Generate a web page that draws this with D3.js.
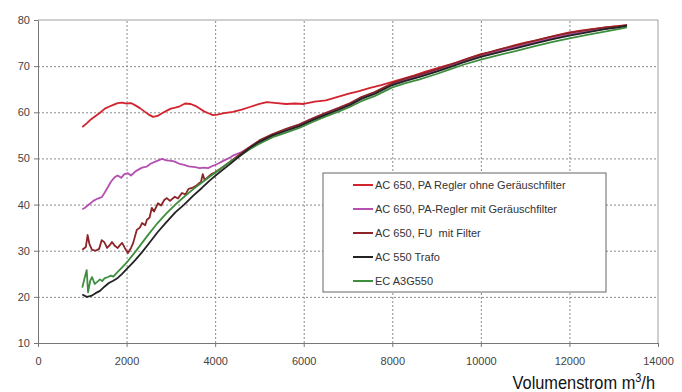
<!DOCTYPE html>
<html>
<head>
<meta charset="utf-8">
<script src="https://cdn.jsdelivr.net/npm/d3@7"></script>
<style>
  body { margin: 0; background: #fff; }
  svg { display: block; }
  .tick text { font-family: "Liberation Sans Narrow", "Arial Narrow", "Liberation Sans", sans-serif; font-size: 11px; fill: #444; }
  .grid line { stroke: #8a8a8a; stroke-dasharray: 2,2; }
  .grid .domain { display: none; }
  .series { fill: none; stroke-width: 1.8; stroke-linejoin: round; }
  .legend text { font-family: "Liberation Sans Narrow", "Arial Narrow", "Liberation Sans", sans-serif; font-size: 11px; fill: #333; white-space: pre; }
</style>
</head>
<body>
<svg id="chart" width="682" height="392"></svg>
<script>
// x ticks / y ticks
var xTicks = [0, 2000, 4000, 6000, 8000, 10000, 12000, 14000];
var yTicks = [10, 20, 30, 40, 50, 60, 70, 80];

var seriesNames = [
  "AC 650, PA Regler ohne Geräuschfilter",
  "AC 650, PA-Regler mit Geräuschfilter",
  "AC 650, FU  mit Filter",
  "AC 550 Trafo",
  "EC A3G550"
];
var seriesColors = ["#d2232e", "#b54fb0", "#8c2428", "#222222", "#3d8f3d"];

// [Volumenstrom, value]
var ohneFilter = [
  [1000,56.8],[1100,57.6],[1200,58.5],[1300,59.2],[1400,59.9],[1510,60.8],[1600,61.2],[1700,61.6],
  [1800,62.0],[1900,62.1],[2000,61.9],[2100,62.0],[2200,61.5],[2300,60.9],[2400,60.2],[2500,59.5],
  [2600,59.0],[2700,59.2],[2800,59.8],[2900,60.3],[3000,60.8],[3100,61.0],[3200,61.3],[3320,61.9],
  [3450,61.8],[3550,61.4],[3650,60.8],[3750,60.2],[3850,59.8],[3950,59.4],[4050,59.5],[4200,59.8],
  [4400,60.1],[4600,60.6],[4800,61.2],[5000,61.8],[5170,62.2],[5400,62.0],[5600,61.8],[5800,61.9],
  [6000,61.8],[6250,62.3],[6500,62.6],[6750,63.3],[7000,64.0],[7250,64.6],[7500,65.3],[7750,65.9],
  [8000,66.6],[8250,67.3],[8500,68.0],[8750,68.8],[9000,69.5],[9250,70.2],[9500,70.9],[9750,71.8],
  [10000,72.6],[10250,73.1],[10500,73.8],[10750,74.5],[11000,75.1],[11250,75.6],[11500,76.2],
  [11750,76.8],[12000,77.3],[12250,77.7],[12500,78.0],[12750,78.3],[13000,78.6],[13300,78.9]
];
var mitFilter = [
  [1000,39.0],[1060,39.3],[1150,40.0],[1250,40.8],[1350,41.3],[1440,41.6],[1500,42.5],[1580,43.8],
  [1650,45.0],[1740,46.0],[1800,46.3],[1880,45.8],[1950,46.6],[2030,46.8],[2100,46.3],[2200,47.2],
  [2350,48.0],[2450,48.2],[2550,48.9],[2650,49.3],[2800,49.9],[2900,49.6],[3000,49.5],[3090,49.3],
  [3200,48.8],[3300,48.6],[3400,48.3],[3550,48.1],[3650,47.9],[3750,48.0],[3840,47.9],[3950,48.4],
  [4050,48.8],[4150,49.3],[4300,50.0],[4400,50.6],[4600,51.4],[4800,52.6],[5000,53.8],[5300,55.2],
  [5600,56.2],[5900,57.2],[6200,58.5],[6500,59.7],[6800,60.8],[7050,61.8],[7300,63.1],[7600,64.2],
  [8000,66.1],[8300,67.0],[8600,67.9],[9000,69.0],[9300,70.0],[9600,71.0],[10000,72.2],[10400,73.2],
  [10800,74.2],[11200,75.1],[11600,76.0],[12000,76.9],[12400,77.5],[12800,78.1],[13100,78.5],[13300,78.8]
];
var fuFilter = [
  [1000,30.2],[1080,30.8],[1120,33.4],[1160,31.5],[1220,30.2],[1300,30.0],[1380,30.4],[1440,32.3],
  [1500,31.8],[1560,30.6],[1620,31.2],[1670,31.9],[1740,31.0],[1800,30.6],[1850,31.2],[1900,31.7],
  [1960,30.6],[2030,29.5],[2100,30.6],[2150,31.7],[2230,34.5],[2300,35.0],[2350,36.0],[2420,35.5],
  [2460,36.7],[2520,37.2],[2570,39.3],[2620,38.5],[2710,40.3],[2780,39.8],[2850,41.0],[2910,41.4],
  [2980,40.8],[3090,41.7],[3160,41.3],[3250,42.5],[3330,42.2],[3400,43.4],[3480,43.6],[3560,44.0],
  [3620,44.5],[3680,44.9],[3720,46.6],[3760,45.4],[3800,45.6],[3900,46.5],[4000,47.0],[4150,48.0],
  [4300,49.0],[4500,50.5],[4800,52.6],[5000,53.9],[5300,55.3],[5600,56.4],[5900,57.4],[6200,58.7],
  [6500,59.9],[6800,61.0],[7050,62.0],[7300,63.3],[7600,64.4],[8000,66.3],[8300,67.3],[8600,68.1],
  [9000,69.3],[9300,70.3],[9600,71.3],[10000,72.5],[10400,73.6],[10800,74.5],[11200,75.5],
  [11600,76.4],[12000,77.2],[12400,77.8],[12800,78.4],[13100,78.6],[13300,78.9]
];
var trafo = [
  [1000,20.5],[1100,20.0],[1200,20.2],[1300,20.8],[1400,21.3],[1500,22.2],[1600,23.0],[1700,23.5],
  [1800,24.1],[1900,25.0],[2000,26.0],[2100,27.0],[2200,28.0],[2350,29.7],[2500,31.5],[2700,34.0],
  [2900,36.2],[3100,38.3],[3300,40.0],[3500,41.9],[3700,43.6],[3900,45.4],[4100,47.0],[4300,48.5],
  [4500,50.1],[4800,52.4],[5000,53.6],[5300,55.0],[5600,56.0],[5900,57.0],[6200,58.3],[6500,59.5],
  [6800,60.6],[7050,61.6],[7300,62.9],[7600,64.0],[8000,65.9],[8300,66.8],[8600,67.6],[9000,68.8],
  [9300,69.8],[9600,70.8],[10000,72.0],[10400,73.0],[10800,73.9],[11200,74.9],[11600,75.8],
  [12000,76.6],[12400,77.3],[12800,78.0],[13100,78.4],[13300,78.8]
];
var ecA3G = [
  [1000,22.0],[1050,24.0],[1100,25.8],[1130,21.0],[1180,23.5],[1220,24.3],[1280,22.8],[1330,23.2],
  [1400,23.8],[1450,23.4],[1500,24.0],[1580,24.3],[1650,24.6],[1700,24.4],[1800,25.4],[1900,26.4],
  [2000,27.4],[2100,28.6],[2200,29.8],[2350,31.7],[2500,33.6],[2700,36.0],[2900,38.1],[3100,40.0],
  [3300,41.7],[3500,43.3],[3700,44.8],[3900,46.2],[4100,47.6],[4300,49.0],[4500,50.2],[4800,52.1],
  [5000,53.2],[5300,54.6],[5600,55.6],[5900,56.6],[6200,57.9],[6500,59.1],[6800,60.2],[7050,61.2],
  [7300,62.4],[7600,63.5],[8000,65.4],[8300,66.3],[8600,67.1],[9000,68.3],[9300,69.3],[9600,70.3],
  [10000,71.4],[10400,72.4],[10800,73.3],[11200,74.3],[11600,75.2],[12000,76.0],[12400,76.8],
  [12800,77.5],[13100,78.0],[13300,78.4]
];

var allSeries = [ohneFilter, mitFilter, fuFilter, trafo, ecA3G];

var svg = d3.select("#chart");
var margin = { left: 38, top: 20 };
var plotW = 620, plotH = 323;
var g = svg.append("g").attr("transform", "translate(" + margin.left + "," + margin.top + ")");

var x = d3.scaleLinear().domain([0, 14000]).range([0, plotW]);
var y = d3.scaleLinear().domain([10, 80]).range([plotH, 0]);

// grid
g.append("g").attr("class", "grid")
  .call(d3.axisLeft(y).tickValues(yTicks.slice(1, -1)).tickSize(-plotW).tickFormat(""));
g.append("g").attr("class", "grid")
  .attr("transform", "translate(0," + plotH + ")")
  .call(d3.axisBottom(x).tickValues(xTicks.slice(1, -1)).tickSize(-plotH).tickFormat(""));

// frame top / right
g.append("line").attr("x1", 0).attr("x2", plotW).attr("y1", 0).attr("y2", 0).attr("stroke", "#a0a0a0");
g.append("line").attr("x1", plotW).attr("x2", plotW).attr("y1", 0).attr("y2", plotH).attr("stroke", "#a0a0a0");

// axes
var yAxis = g.append("g").call(d3.axisLeft(y).tickValues(yTicks).tickFormat(d3.format("d")).tickSize(4).tickPadding(4).tickSizeOuter(0));
var xAxis = g.append("g").attr("transform", "translate(0," + plotH + ")")
  .call(d3.axisBottom(x).tickValues(xTicks).tickFormat(d3.format("d")).tickSize(4).tickPadding(10).tickSizeOuter(0));
[yAxis, xAxis].forEach(function (a) {
  a.selectAll(".domain, .tick line").attr("stroke", "#777");
});

// series
var line = d3.line().x(function (d) { return x(d[0]); }).y(function (d) { return y(d[1]); });
var drawOrder = [0, 1, 2, 4, 3];
drawOrder.forEach(function (i) {
  g.append("path").datum(allSeries[i])
    .attr("class", "series")
    .attr("stroke", seriesColors[i])
    .attr("d", line);
});

// legend
var lg = svg.append("g").attr("class", "legend").attr("transform", "translate(323,173)");
lg.append("rect").attr("width", 283).attr("height", 119).attr("fill", "#fff").attr("stroke", "#666");
seriesNames.forEach(function (name, i) {
  var row = lg.append("g").attr("transform", "translate(0," + (12 + i * 24) + ")");
  row.append("line").attr("x1", 30).attr("x2", 50).attr("stroke", seriesColors[i]).attr("stroke-width", 2);
  row.append("text").attr("x", 52).attr("dy", "0.35em").text(name);
});

// x axis title
var title = svg.append("g").attr("transform", "translate(655,389) scale(0.91,1)")
  .append("text").attr("text-anchor", "end")
  .style("font-family", "'Liberation Sans Narrow', 'Arial Narrow', 'Liberation Sans', sans-serif")
  .style("font-size", "18px").style("fill", "#111");
title.append("tspan").text("Volumenstrom m");
title.append("tspan").attr("dy", -7).style("font-size", "12px").text("3");
title.append("tspan").attr("dy", 7).text("/h");
</script>
</body>
</html>
